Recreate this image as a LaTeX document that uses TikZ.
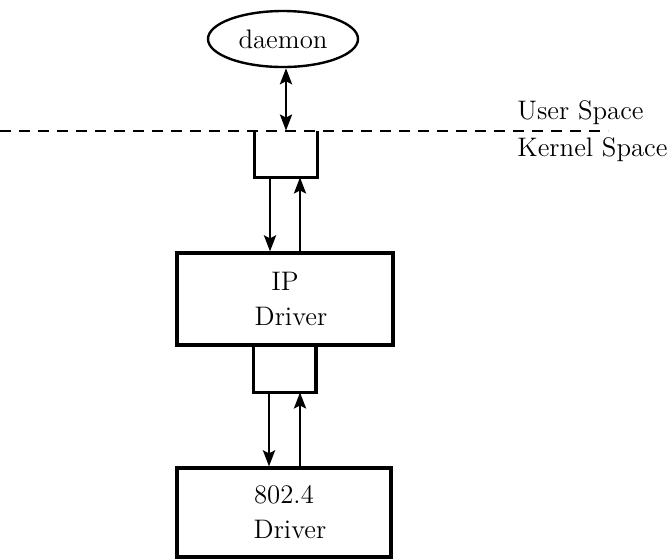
\documentclass[tikz,border=0pt]{standalone}
\usetikzlibrary{shapes.geometric,arrows.meta}
\begin{document}
\begin{tikzpicture}[x=0.5pt,y=-0.5pt,
  txt/.style={font=\fontsize{13.4}{17.5}\selectfont},
  boxnode/.style={draw,line width=1.6pt,inner sep=0pt,align=center,txt},
  bufnode/.style={inner sep=0pt,minimum width=31pt,minimum height=23pt},
  bufline/.style={line width=1.6pt,line join=miter},
  tip/.tip={Stealth[length=8pt,width=6pt,inset=1.5pt]},
  flow/.style={line width=1.4pt,-tip},
  dflow/.style={line width=1.4pt,tip-tip},
  sep/.style={line width=1.4pt,dash pattern=on 5.5pt off 4pt},
  lbl/.style={anchor=west,inner sep=0pt,txt}]
\useasboundingbox (0,0) rectangle (672,559);

% nodes
\node[ellipse,draw,line width=1.2pt,inner sep=0pt,minimum width=75pt,minimum height=28pt,txt] (daemon) at (283,39) {daemon};
\node[bufnode] (buf1) at (286,154) {};
\node[boxnode,minimum width=108pt,minimum height=46pt] (ip) at (285,299) {IP\\ \hspace*{6pt}Driver};
\node[bufnode,minimum height=23.5pt] (buf2) at (284.5,368.5) {};
\node[boxnode,minimum width=107pt,minimum height=44.5pt] (drv) at (284,512.5) {802.4\\ \hspace*{6pt}Driver};

\node[lbl] (user) at (517,113) {User Space};
\node[lbl] (kernel) at (517,150) {Kernel Space};

% separator
\coordinate (dl) at (0,131);
\coordinate (dr) at (608,131);
\draw[sep] (dl) -- (dr);

% buffers (open top)
\draw[bufline] (buf1.north west) -- (buf1.south west) -- (buf1.south east) -- (buf1.north east);
\draw[bufline] (buf2.north west) -- (buf2.south west) -- (buf2.south east) -- (buf2.north east);

% daemon link
\draw[dflow] ([xshift=1.5pt]daemon.south) -- (buf1.north);

% buf1 <-> ip
\coordinate (a1) at ([xshift=-8pt]buf1.south);
\coordinate (a2) at (a1 |- ip.north);
\coordinate (b1) at ([xshift=7pt]buf1.south);
\coordinate (b2) at (b1 |- ip.north);
\draw[flow] (a1) -- (a2);
\draw[flow] (b2) -- (b1);

% buf2 <-> drv
\coordinate (c1) at ([xshift=-7.75pt]buf2.south);
\coordinate (c2) at (c1 |- drv.north);
\coordinate (e1) at ([xshift=7.75pt]buf2.south);
\coordinate (e2) at (e1 |- drv.north);
\draw[flow] (c1) -- (c2);
\draw[flow] (e2) -- (e1);
\end{tikzpicture}
\end{document}
